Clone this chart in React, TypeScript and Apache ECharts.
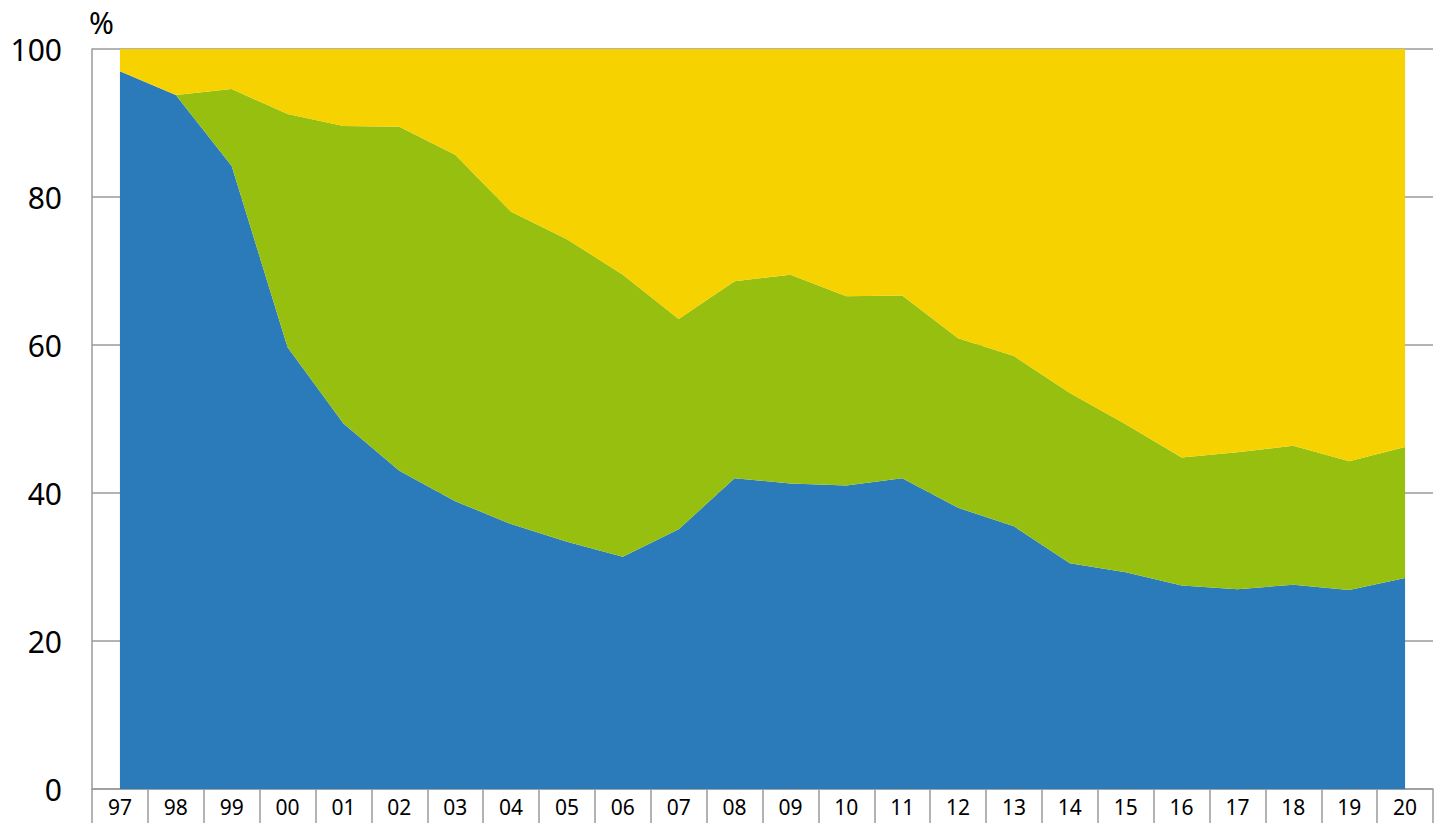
import React, { useEffect, useRef } from "react";
import * as echarts from "echarts";

const categories = ["97", "98", "99", "00", "01", "02", "03", "04", "05", "06", "07", "08", "09", "10", "11", "12", "13", "14", "15", "16", "17", "18", "19", "20"];
const blueValues = [97.0, 93.8, 84.2, 59.7, 49.4, 43.0, 38.9, 35.8, 33.4, 31.4, 35.1, 42.0, 41.3, 41.0, 42.0, 38.0, 35.5, 30.5, 29.3, 27.5, 27.0, 27.6, 26.9, 28.5];
const greenValues = [0, 0, 10.4, 31.5, 40.2, 46.5, 46.8, 42.2, 40.9, 38.1, 28.4, 26.6, 28.2, 25.6, 24.7, 22.9, 23.0, 23.0, 20.0, 17.3, 18.5, 18.8, 17.4, 17.7];
const yellowValues = [3.0, 6.2, 5.4, 8.8, 10.4, 10.5, 14.3, 22.0, 25.7, 30.5, 36.5, 31.4, 30.5, 33.4, 33.3, 39.1, 41.5, 46.5, 50.7, 55.2, 54.5, 53.6, 55.7, 53.8];
const yTicks = [0, 20, 40, 60, 80, 100];

const FONT = "Noto Sans";
const AXIS_GRAY = "#9a9a9a";

export default function App() {
  const ref = useRef<HTMLDivElement>(null);
  useEffect(() => {
    if (!ref.current) return;
    const chart = echarts.init(ref.current, null, { renderer: "svg" });
    const mk = (name: string, data: number[], color: string) => ({
      name,
      type: "line",
      stack: "total",
      data,
      showSymbol: false,
      symbol: "none",
      lineStyle: { width: 0, color },
      itemStyle: { color },
      areaStyle: { color, opacity: 1 },
      z: 3,
    });
    chart.setOption({
      animation: false,
      backgroundColor: "#ffffff",
      grid: { left: 92, right: 6, top: 49, bottom: 34, containLabel: false },
      xAxis: {
        type: "category",
        data: categories,
        boundaryGap: true,
        axisLine: { show: true, lineStyle: { color: AXIS_GRAY, width: 1.5 } },
        axisTick: { show: true, alignWithLabel: false, length: 36, lineStyle: { color: AXIS_GRAY, width: 1.5 } },
        axisLabel: { color: "#000", fontFamily: FONT, fontSize: 21, lineHeight: 20, margin: 8 },
        splitLine: { show: false },
      },
      yAxis: {
        type: "value",
        min: yTicks[0],
        max: yTicks[yTicks.length - 1],
        interval: 20,
        axisLine: { show: true, lineStyle: { color: AXIS_GRAY, width: 1.5 } },
        axisTick: { show: false },
        axisLabel: { color: "#000", fontFamily: FONT, fontSize: 30, margin: 30 },
        splitLine: { show: true, lineStyle: { color: AXIS_GRAY, width: 1.5 } },
      },
      graphic: [
        {
          type: "text",
          left: 89,
          top: 7,
          style: { text: "%", fill: "#000", font: `30px "${FONT}"`, lineHeight: 30 },
        },
      ],
      series: [
        mk("Blue", blueValues, "#2B7BBA"),
        mk("Green", greenValues, "#97BF0F"),
        mk("Yellow", yellowValues, "#F6D200"),
      ],
    });
    return () => chart.dispose();
  }, []);
  return (
    <div
      ref={ref}
      style={{ position: "fixed", left: 0, top: 0, width: 1439, height: 823 }}
    />
  );
}
